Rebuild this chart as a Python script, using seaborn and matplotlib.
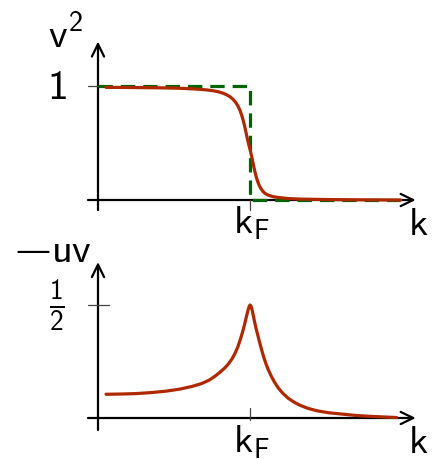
import matplotlib
matplotlib.use("Agg")
import matplotlib.pyplot as plt
import seaborn as sns

# Occupation probability v^2 around the Fermi momentum (k in units of k_F)
k_v2 = [0.053, 0.20, 0.342, 0.45, 0.54, 0.62, 0.671, 0.72, 0.76, 0.79,
        0.82, 0.845, 0.868, 0.888, 0.905, 0.920, 0.933, 0.945, 0.956, 0.966,
        0.975, 0.984, 0.992, 1.000, 1.008, 1.016, 1.024, 1.032, 1.040, 1.050,
        1.060, 1.072, 1.085, 1.100, 1.120, 1.150, 1.186, 1.25, 1.33, 1.50,
        1.66, 1.83, 1.99]
v2 = [0.988, 0.987, 0.985, 0.983, 0.980, 0.975, 0.971, 0.965, 0.958, 0.950,
      0.938, 0.924, 0.906, 0.884, 0.857, 0.826, 0.790, 0.745, 0.695, 0.640,
      0.585, 0.530, 0.485, 0.445, 0.400, 0.350, 0.298, 0.250, 0.208, 0.165,
      0.130, 0.100, 0.075, 0.057, 0.042, 0.030, 0.022, 0.013, 0.008, 0.004,
      0.002, 0.001, 0.0]

# Normal-state Fermi step
k_step = [0.0, 1.0, 1.0, 1.99]
v2_step = [1.0, 1.0, 0.0, 0.0]

# Coherence factor -uv
k_uv = [0.053, 0.150, 0.250, 0.342, 0.450, 0.540, 0.620, 0.680, 0.730, 0.770,
        0.805, 0.835, 0.860, 0.882, 0.902, 0.920, 0.936, 0.950, 0.962, 0.972,
        0.981, 0.989, 0.995, 1.000, 1.005, 1.010, 1.016, 1.022, 1.030, 1.040,
        1.050, 1.062, 1.075, 1.090, 1.105, 1.120, 1.140, 1.160, 1.185, 1.215,
        1.250, 1.290, 1.330, 1.380, 1.440, 1.520, 1.610, 1.700, 1.800, 1.900,
        1.965]
uv = [0.105, 0.106, 0.108, 0.112, 0.119, 0.128, 0.140, 0.152, 0.167, 0.185,
      0.204, 0.222, 0.241, 0.262, 0.287, 0.315, 0.347, 0.378, 0.408, 0.436,
      0.461, 0.482, 0.494, 0.500, 0.497, 0.488, 0.472, 0.452, 0.426, 0.396,
      0.370, 0.338, 0.305, 0.270, 0.240, 0.214, 0.185, 0.160, 0.134, 0.110,
      0.088, 0.070, 0.056, 0.043, 0.032, 0.023, 0.017, 0.011, 0.007, 0.004,
      0.002]

RED = "#b02800"
GREEN = "#006400"
TICK = "#444444"

sns.set_theme(style="white")
plt.rcParams.update({
    "mathtext.fontset": "custom",
    "mathtext.rm": "cmss10",
    "mathtext.sf": "cmss10",
    "mathtext.it": "cmss10",
    "mathtext.bf": "cmss10",
    "mathtext.fallback": "cm",
})

W, H = 440, 459
fig = plt.figure(figsize=(W / 100, H / 100), dpi=100)

# pixel scale of both panels: k_F sits 152 px right of the origin
x0, xkf = 98, 250
xlim = (-x0 / (xkf - x0), (W - x0) / (xkf - x0))

ax1 = fig.add_axes([0, 229 / H, 1, 230 / H])
ax1.set_xlim(*xlim)
ax1.set_ylim((200 - 230) / 114, 200 / 114)
ax2 = fig.add_axes([0, 0, 1, 229 / H])
ax2.set_xlim(*xlim)
ax2.set_ylim((418 - 459) / 226, (418 - 230) / 226)
for ax in (ax1, ax2):
    ax.set_axis_off()

arrow = dict(arrowstyle="->,head_length=0.45,head_width=0.22",
             lw=1.6, color="black", shrinkA=0, shrinkB=0, mutation_scale=20)


def axis_arrow(ax, start, end):
    ax.annotate("", xy=end, xytext=start, arrowprops=arrow, zorder=1)


# upper panel: axes, ticks, step and v^2
axis_arrow(ax1, (-0.066, 0), (2.09, 0))
axis_arrow(ax1, (0, -0.088), (0, 1.39))
ax1.plot([-0.066, 0], [1, 1], color=TICK, lw=0.9, zorder=1)
ax1.plot([1, 1], [0, -0.088], color=TICK, lw=0.9, zorder=1)

sns.lineplot(x=k_step, y=v2_step, ax=ax1, sort=False, estimator=None,
             color=GREEN, lw=2.3, linestyle=(0, (4.5, 2.5)), zorder=2)
sns.lineplot(x=k_v2, y=v2, ax=ax1, sort=False, estimator=None,
             color=RED, lw=2.3, zorder=3)

# lower panel: axes, ticks and -uv
axis_arrow(ax2, (-0.066, 0), (2.09, 0))
axis_arrow(ax2, (0, -0.053), (0, 0.69))
ax2.plot([-0.066, 0.072], [0.5, 0.5], color=TICK, lw=0.9, zorder=1)
ax2.plot([1, 1], [-0.009, 0.044], color=TICK, lw=0.9, zorder=1)

sns.lineplot(x=k_uv, y=uv, ax=ax2, sort=False, estimator=None,
             color=RED, lw=2.3, zorder=3)


def label(x, y, s, ha="left", va="baseline", size=28):
    fig.text(x / W, 1 - y / H, s, ha=ha, va=va, fontsize=size, color="black")


label(48, 48, r"$\mathsf{v}^{2}$", size=29)
label(57, 87, r"$\mathsf{1}$", ha="center", va="center", size=30)
label(233, 233, r"$\mathsf{k}_{\mathsf{F}}$")
label(408, 235, r"$\mathsf{k}$")
label(31, 248, r"$-$", ha="center", va="center", size=38)
label(51, 262, r"$\mathsf{uv}$", size=29)
label(57, 306, r"$\frac{\mathsf{1}}{\mathsf{2}}$", ha="center", va="center")
label(233, 452, r"$\mathsf{k}_{\mathsf{F}}$")
label(408, 453, r"$\mathsf{k}$")

fig.savefig("out.png", dpi=100)
